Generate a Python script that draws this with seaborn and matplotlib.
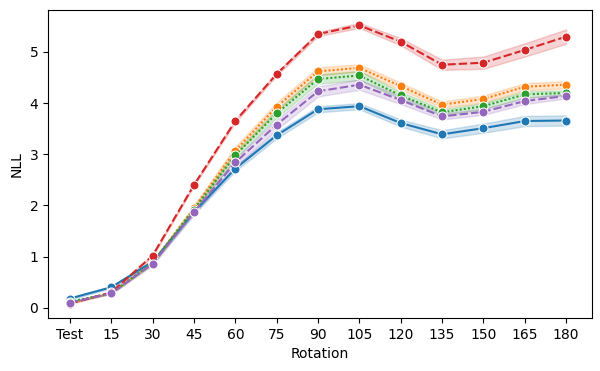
import numpy as np
import pandas as pd
import matplotlib
matplotlib.use('Agg')
import matplotlib.pyplot as plt
import seaborn as sns

rotations = ['Test', '15', '30', '45', '60', '75', '90', '105', '120', '135', '150', '165', '180']
models = ['A', 'B', 'C', 'D', 'E']

nll_a = [0.18, 0.40, 0.90, 1.87, 2.72, 3.37, 3.88, 3.94, 3.61, 3.39, 3.51, 3.65, 3.66]
nll_b = [0.10, 0.28, 0.88, 1.95, 3.07, 3.93, 4.62, 4.69, 4.33, 3.97, 4.08, 4.32, 4.36]
nll_c = [0.12, 0.28, 0.88, 1.92, 2.98, 3.80, 4.47, 4.54, 4.15, 3.82, 3.94, 4.17, 4.20]
nll_d = [0.08, 0.30, 1.02, 2.40, 3.65, 4.57, 5.35, 5.52, 5.20, 4.75, 4.79, 5.04, 5.30]
nll_e = [0.10, 0.28, 0.86, 1.87, 2.84, 3.58, 4.23, 4.36, 4.06, 3.74, 3.83, 4.04, 4.14]

# half-width of the shaded band
spread_a = [0.02, 0.02, 0.03, 0.04, 0.05, 0.06, 0.06, 0.06, 0.07, 0.08, 0.09, 0.10, 0.10]
spread_b = [0.01, 0.01, 0.03, 0.05, 0.08, 0.08, 0.08, 0.07, 0.07, 0.06, 0.07, 0.07, 0.07]
spread_c = [0.01, 0.01, 0.03, 0.05, 0.07, 0.08, 0.09, 0.09, 0.07, 0.06, 0.06, 0.06, 0.05]
spread_d = [0.01, 0.01, 0.02, 0.02, 0.03, 0.03, 0.04, 0.05, 0.07, 0.10, 0.12, 0.13, 0.14]
spread_e = [0.01, 0.01, 0.03, 0.05, 0.08, 0.10, 0.10, 0.10, 0.08, 0.06, 0.06, 0.06, 0.05]

means = [nll_a, nll_b, nll_c, nll_d, nll_e]
spreads = [spread_a, spread_b, spread_c, spread_d, spread_e]

rows = []
for m, mu, sp in zip(models, means, spreads):
    for r, v, s in zip(rotations, mu, sp):
        for k in (-1, 0, 1):
            rows.append({'Rotation': r, 'NLL': v + k * s, 'Model': m})
df = pd.DataFrame(rows)

plt.figure(figsize=(6, 3.71))
ax = sns.lineplot(data=df, x='Rotation', y='NLL', hue='Model', style='Model',
                  hue_order=models, style_order=models,
                  dashes={'A': '', 'B': (1, 1), 'C': (1, 1), 'D': (4, 1.5), 'E': (4, 1.5)},
                  markers={m: 'o' for m in models}, markersize=6.5,
                  errorbar=('pi', 100), legend=False)
ax.set_yticks([0, 1, 2, 3, 4, 5])
ax.set_ylim(-0.2, 5.82)
ax.set_xlim(-0.53, 12.63)
plt.subplots_adjust(left=0.08, right=0.987, top=0.973, bottom=0.143)
plt.savefig('out.png', dpi=100)
